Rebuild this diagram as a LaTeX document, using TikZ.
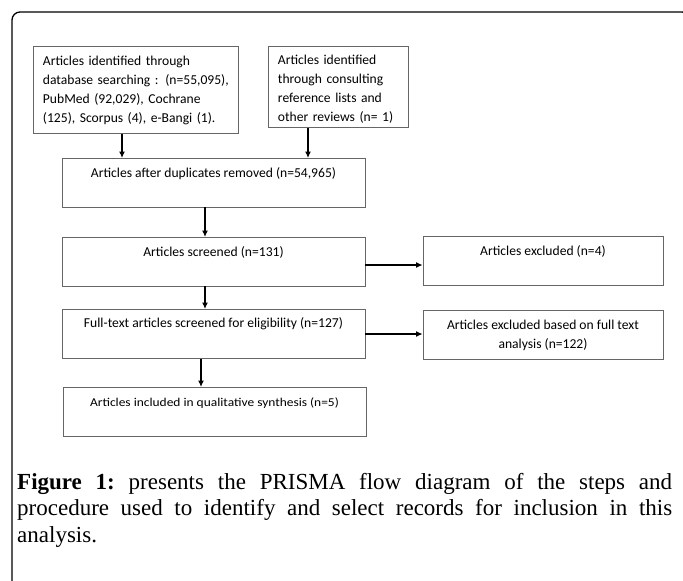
\documentclass[tikz,border=0pt]{standalone}
\usepackage{fontspec}
\setmainfont{Liberation Serif}
\newfontfamily\boxfont{Carlito}
\newfontfamily\smallboxfont[FakeStretch=1.12]{Carlito}
\usetikzlibrary{arrows.meta}
\definecolor{boxgray}{gray}{0.4}

\begin{document}
\begin{tikzpicture}[x=1pt,y=-1pt,
  box/.style={draw=boxgray,line width=0.9pt,inner sep=0pt,font=\boxfont\fontsize{13.6}{19}\selectfont},
  listbox/.style={box,anchor=north west,align=left,inner xsep=9.5pt},
  topbox/.style={box,anchor=north,minimum width=303pt,text height=19.5pt,text depth=29pt},
  flow/.style={-{Latex[length=6.5pt,width=6pt]},line width=1.2pt}]
\path[use as bounding box,fill=white] (0,0) rectangle (683,581);

% outer frame, open at the bottom
\draw[line width=1.3pt,rounded corners=8pt] (12,600) -- (12,12) -- (690,12) -- (690,600);

% identification
\node[listbox,text width=186pt,minimum height=87pt] (dbsearch) at (33,46)
  {Articles identified through\\database searching : (n=55,095),\\PubMed (92,029), Cochrane\\(125), Scorpus (4), e-Bangi (1).};
\node[listbox,text width=121pt,text height=18pt,text depth=63pt] (reflists) at (268,46)
  {Articles identified\\through consulting\\reference lists and\\other reviews (n= 1)};

% screening
\node[topbox] (dedup) at (213.5,158) {Articles after duplicates removed (n=54,965)};
\node[topbox] (screened) at (213.5,237) {Articles screened (n=131)};
\node[topbox,minimum width=240pt] (excluded) at (543,236) {Articles excluded (n=4)};
\node[topbox,text height=18.5pt,text depth=30.5pt] (fulltext) at (213.5,309)
  {Full-text articles screened for eligibility (n=127)};
\node[box,anchor=north,minimum width=240pt,minimum height=49pt,align=center] (exclfull) at (543,310)
  {Articles excluded based on full text\\analysis (n=122)};
\node[topbox,font=\smallboxfont\fontsize{12}{16}\selectfont,text height=19pt,text depth=30pt] (included) at (214.5,387)
  {Articles included in qualitative synthesis (n=5)};

% connectors
\coordinate (c1) at (122,0);
\coordinate (c2) at (308,0);
\coordinate (c3) at (205,0);
\coordinate (c4) at (201,0);
\coordinate (r1) at (0,265);
\coordinate (r2) at (0,334);
\draw[flow] (dbsearch.south -| c1) -- (dedup.north -| c1);
\draw[flow] (reflists.south -| c2) -- (dedup.north -| c2);
\draw[flow] (dedup.south -| c3) -- (screened.north -| c3);
\draw[flow] (screened.south -| c3) -- (fulltext.north -| c3);
\draw[flow] (fulltext.south -| c4) -- (included.north -| c4);
\draw[flow] (screened.east |- r1) -- (excluded.west |- r1);
\draw[flow] (fulltext.east |- r2) -- (exclfull.west |- r2);

% caption
\node[anchor=base west,text width=655pt,align=justify,inner sep=0pt,font=\frenchspacing\fontsize{23}{26.7}\selectfont] (caption) at (17,489)
  {\textbf{Figure 1:} presents the PRISMA flow diagram of the steps and\linebreak
   procedure used to identify and select records for inclusion in this\linebreak
   analysis.};
\end{tikzpicture}
\end{document}
